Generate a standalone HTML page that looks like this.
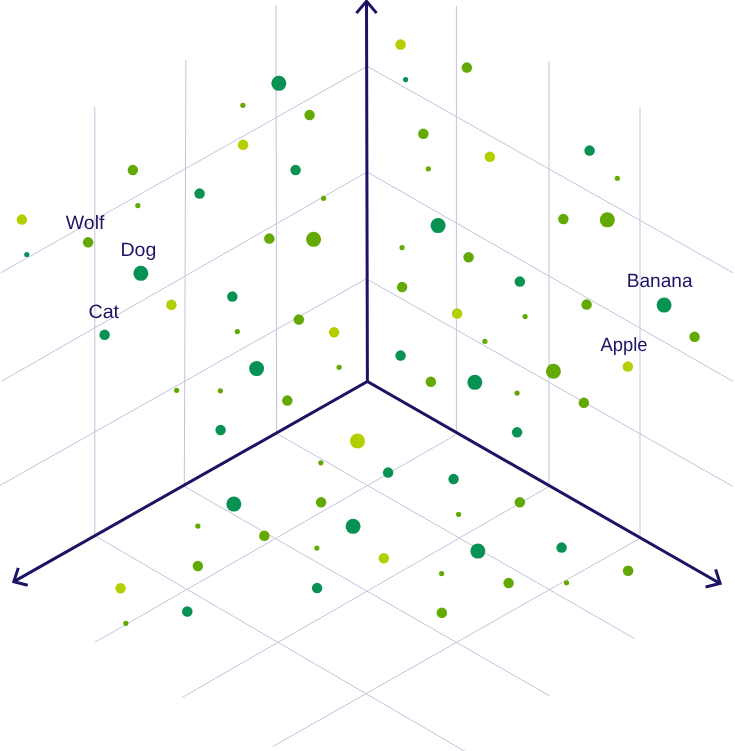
<!DOCTYPE html>
<html lang="en"><head><meta charset="utf-8"><title>Embedding space</title>
<style>html,body{margin:0;padding:0;background:#fff}svg{display:block}text{font-family:"Liberation Sans",Arial,sans-serif;font-size:19.2px;text-rendering:geometricPrecision;fill:#1b1464}</style></head><body>
<svg width="735" height="751" viewBox="0 0 735 751">
<rect width="735" height="751" fill="#fff"/>
<g stroke="#c4c3de" stroke-width="1" fill="none">
<line x1="94.8" y1="107" x2="94.8" y2="535.4"/>
<line x1="185.9" y1="60" x2="184.3" y2="484.9"/>
<line x1="276" y1="5" x2="276.6" y2="432.5"/>
<line x1="456.4" y1="6" x2="456.4" y2="432.3"/>
<line x1="549" y1="61" x2="549" y2="485.1"/>
<line x1="640" y1="107.4" x2="640" y2="537"/>
<line x1="366.5" y1="66.7" x2="1" y2="272.6"/>
<line x1="367" y1="171.9" x2="1.1" y2="381.5"/>
<line x1="367.15" y1="278.3" x2="-1" y2="486"/>
<line x1="366.5" y1="65.9" x2="733.3" y2="273"/>
<line x1="367" y1="171.9" x2="733.25" y2="381.5"/>
<line x1="367.15" y1="279.3" x2="732.5" y2="486.2"/>
<line x1="456.4" y1="434.4" x2="95" y2="642.3"/>
<line x1="549" y1="486.5" x2="182.3" y2="697.4"/>
<line x1="640" y1="538.3" x2="273.4" y2="746.2"/>
<line x1="276.6" y1="433.3" x2="634.8" y2="638.7"/>
<line x1="184.3" y1="486.3" x2="549.7" y2="695.9"/>
<line x1="94.8" y1="535.6" x2="466" y2="752"/>
</g>
<g stroke="#1b1464" stroke-width="3" fill="none" stroke-linejoin="miter" stroke-linecap="butt">
<path d="M13.8 581.6 L367.4 381.5 L720.1 583.5 M367.4 381.5 L366.5 1.25"/>
<path d="M356.4 13.15 L366.5 1.25 L376.6 13.15"/>
<path d="M18.3 567.9 L13.8 581.6 L27.7 585.3"/>
<path d="M715.65 569.4 L720.1 583.5 L705.6 587"/>
</g>
<g>
<circle cx="132.85" cy="170.1" r="5.25" fill="#62a903"/>
<circle cx="278.85" cy="83.35" r="7.5" fill="#079254"/>
<circle cx="242.85" cy="105.35" r="2.6" fill="#62a903"/>
<circle cx="309.6" cy="115.1" r="5.25" fill="#62a903"/>
<circle cx="243.1" cy="144.85" r="5.25" fill="#b5ce00"/>
<circle cx="295.6" cy="170.1" r="5.25" fill="#079254"/>
<circle cx="400.6" cy="44.6" r="5.25" fill="#b5ce00"/>
<circle cx="405.6" cy="79.6" r="2.6" fill="#079254"/>
<circle cx="466.85" cy="67.6" r="5.25" fill="#62a903"/>
<circle cx="423.35" cy="133.85" r="5.25" fill="#62a903"/>
<circle cx="489.85" cy="156.85" r="5.25" fill="#b5ce00"/>
<circle cx="428.35" cy="168.85" r="2.6" fill="#62a903"/>
<circle cx="589.6" cy="150.6" r="5.25" fill="#079254"/>
<circle cx="617.35" cy="178.35" r="2.6" fill="#62a903"/>
<circle cx="21.85" cy="219.6" r="5.25" fill="#b5ce00"/>
<circle cx="26.8" cy="254.5" r="2.6" fill="#079254"/>
<circle cx="88.1" cy="242.35" r="5.25" fill="#62a903"/>
<circle cx="137.85" cy="205.6" r="2.6" fill="#62a903"/>
<circle cx="140.85" cy="273.35" r="7.5" fill="#079254"/>
<circle cx="171.35" cy="304.85" r="5.25" fill="#b5ce00"/>
<circle cx="104.6" cy="334.85" r="5.25" fill="#079254"/>
<circle cx="199.6" cy="193.6" r="5.25" fill="#079254"/>
<circle cx="323.6" cy="198.35" r="2.6" fill="#62a903"/>
<circle cx="269.35" cy="238.6" r="5.25" fill="#62a903"/>
<circle cx="313.6" cy="239.35" r="7.5" fill="#62a903"/>
<circle cx="232.35" cy="296.6" r="5.25" fill="#079254"/>
<circle cx="237.35" cy="331.6" r="2.6" fill="#62a903"/>
<circle cx="298.85" cy="319.6" r="5.25" fill="#62a903"/>
<circle cx="334.1" cy="332.35" r="5.25" fill="#b5ce00"/>
<circle cx="256.6" cy="368.6" r="7.5" fill="#079254"/>
<circle cx="339.1" cy="367.35" r="2.6" fill="#62a903"/>
<circle cx="438.1" cy="225.6" r="7.5" fill="#079254"/>
<circle cx="402.1" cy="247.6" r="2.6" fill="#62a903"/>
<circle cx="468.6" cy="257.35" r="5.25" fill="#62a903"/>
<circle cx="519.85" cy="281.6" r="5.25" fill="#079254"/>
<circle cx="402.1" cy="287.1" r="5.25" fill="#62a903"/>
<circle cx="457.1" cy="313.6" r="5.25" fill="#b5ce00"/>
<circle cx="525.1" cy="316.6" r="2.6" fill="#62a903"/>
<circle cx="484.85" cy="341.35" r="2.6" fill="#62a903"/>
<circle cx="400.6" cy="355.6" r="5.25" fill="#079254"/>
<circle cx="563.35" cy="219.1" r="5.25" fill="#62a903"/>
<circle cx="607.35" cy="219.85" r="7.5" fill="#62a903"/>
<circle cx="586.6" cy="304.6" r="5.25" fill="#62a903"/>
<circle cx="664.1" cy="305.1" r="7.5" fill="#079254"/>
<circle cx="694.6" cy="336.85" r="5.25" fill="#62a903"/>
<circle cx="627.85" cy="366.6" r="5.25" fill="#b5ce00"/>
<circle cx="553.4" cy="371.2" r="7.5" fill="#62a903"/>
<circle cx="176.6" cy="390.35" r="2.6" fill="#62a903"/>
<circle cx="220.35" cy="390.85" r="2.6" fill="#62a903"/>
<circle cx="287.35" cy="400.6" r="5.25" fill="#62a903"/>
<circle cx="220.6" cy="430.1" r="5.25" fill="#079254"/>
<circle cx="357.5" cy="441" r="7.5" fill="#b5ce00"/>
<circle cx="320.85" cy="462.85" r="2.6" fill="#62a903"/>
<circle cx="233.85" cy="504.1" r="7.5" fill="#079254"/>
<circle cx="321.1" cy="502.35" r="5.25" fill="#62a903"/>
<circle cx="353.1" cy="526.35" r="7.5" fill="#079254"/>
<circle cx="197.85" cy="526.1" r="2.6" fill="#62a903"/>
<circle cx="264.35" cy="535.85" r="5.25" fill="#62a903"/>
<circle cx="316.85" cy="548.1" r="2.6" fill="#62a903"/>
<circle cx="197.85" cy="566.1" r="5.25" fill="#62a903"/>
<circle cx="430.85" cy="381.85" r="5.25" fill="#62a903"/>
<circle cx="474.85" cy="382.35" r="7.5" fill="#079254"/>
<circle cx="517.1" cy="393.1" r="2.6" fill="#62a903"/>
<circle cx="517.1" cy="432.35" r="5.25" fill="#079254"/>
<circle cx="388.1" cy="472.6" r="5.25" fill="#079254"/>
<circle cx="453.6" cy="479.1" r="5.25" fill="#079254"/>
<circle cx="519.85" cy="502.35" r="5.25" fill="#62a903"/>
<circle cx="458.6" cy="514.35" r="2.6" fill="#62a903"/>
<circle cx="477.85" cy="551.1" r="7.5" fill="#079254"/>
<circle cx="383.85" cy="558.3" r="5.25" fill="#b5ce00"/>
<circle cx="583.85" cy="402.85" r="5.25" fill="#62a903"/>
<circle cx="561.6" cy="547.6" r="5.25" fill="#079254"/>
<circle cx="120.6" cy="588.35" r="5.25" fill="#b5ce00"/>
<circle cx="125.85" cy="623.35" r="2.6" fill="#62a903"/>
<circle cx="187.3" cy="611.5" r="5.25" fill="#079254"/>
<circle cx="317.1" cy="588.1" r="5.25" fill="#079254"/>
<circle cx="441.6" cy="573.6" r="2.6" fill="#62a903"/>
<circle cx="508.6" cy="583.1" r="5.25" fill="#62a903"/>
<circle cx="441.85" cy="612.85" r="5.25" fill="#62a903"/>
<circle cx="566.5" cy="582.8" r="2.6" fill="#62a903"/>
<circle cx="628.1" cy="570.8" r="5.25" fill="#62a903"/>
</g>
<text x="65.8" y="228.5" textLength="38.6" lengthAdjust="spacingAndGlyphs">Wolf</text>
<text x="120.4" y="256.4" textLength="35.9" lengthAdjust="spacingAndGlyphs">Dog</text>
<text x="88.45" y="318.05" textLength="30.6" lengthAdjust="spacingAndGlyphs">Cat</text>
<text x="626.7" y="286.75" textLength="65.9" lengthAdjust="spacingAndGlyphs">Banana</text>
<text x="600.45" y="350.9" textLength="47.1" lengthAdjust="spacingAndGlyphs">Apple</text>
</svg></body></html>
